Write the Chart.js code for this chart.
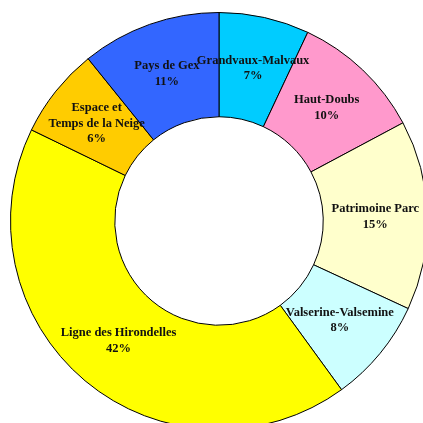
<!DOCTYPE html>
<html>
<head>
<meta charset="utf-8">
<script src="https://cdn.jsdelivr.net/npm/chart.js@4"></script>
<style>
    html, body { margin: 0; padding: 0; background: #fff; overflow: hidden; width: 423px; height: 423px; }
    #wrap { position: absolute; left: 10px; top: 12px; width: 418px; height: 418px; }
</style>
</head>
<body>
<div id="wrap"><canvas id="pieChart"></canvas></div>
<script>
const secteurs = ['Grandvaux-Malvaux', 'Haut-Doubs', 'Patrimoine Parc', 'Valserine-Valsemine', 'Ligne des Hirondelles', 'Espace et|Temps de la Neige', 'Pays de Gex'];
const parts = [7.0, 10.2, 14.7, 8.1, 42.2, 7.0, 10.8];
const pourcents = ['7%', '10%', '15%', '8%', '42%', '6%', '11%'];
const couleurs = ['#00CCFF', '#FF99CC', '#FFFFCC', '#CCFFFF', '#FFFF00', '#FFCC00', '#3366FF'];

// texte au centre de chaque part
const etiquettes = {
    id: 'etiquettes',
    afterDatasetsDraw(chart) {
        const ctx = chart.ctx;
        const meta = chart.getDatasetMeta(0);
        ctx.save();
        ctx.font = 'bold 12.5px "Liberation Serif", "Times New Roman", serif';
        ctx.fillStyle = '#111';
        ctx.textAlign = 'center';
        ctx.textBaseline = 'middle';
        meta.data.forEach((arc, i) => {
            const p = arc.getCenterPoint();
            const lignes = secteurs[i].split('|').concat([pourcents[i]]);
            const h = 15.5;
            const y0 = p.y - (lignes.length - 1) * h / 2;
            lignes.forEach((l, j) => ctx.fillText(l, p.x, y0 + j * h));
        });
        ctx.restore();
    }
};

new Chart(document.getElementById('pieChart'), {
    type: 'doughnut',
    data: {
        labels: secteurs.map(s => s.replace('|', ' ')),
        datasets: [{
            data: parts,
            backgroundColor: couleurs,
            borderColor: '#000',
            borderWidth: 1
        }]
    },
    options: {
        responsive: true,
        maintainAspectRatio: false,
        animation: false,
        cutout: '50%',
        layout: { padding: 0 },
        plugins: { legend: { display: false }, tooltip: { enabled: false } }
    },
    plugins: [etiquettes]
});
</script>
</body>
</html>
